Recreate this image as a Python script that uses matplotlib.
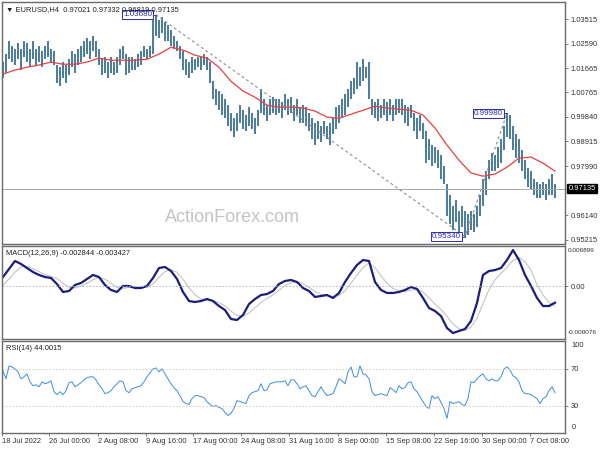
import numpy as np
import matplotlib
matplotlib.use("Agg")
import matplotlib.pyplot as plt
import matplotlib.transforms as mtrans

plt.rcParams['font.family'] = ['Liberation Sans', 'DejaVu Sans']

# EURUSD H4, one entry per two H4 bars
hi = [1.019, 1.022, 1.027, 1.025, 1.024, 1.026, 1.024, 1.027, 1.026, 1.024,
      1.027, 1.024, 1.025, 1.023, 1.025, 1.027, 1.024, 1.023, 1.018, 1.017,
      1.019, 1.018, 1.020, 1.023, 1.022, 1.024, 1.025, 1.027, 1.028, 1.027,
      1.029, 1.027, 1.024, 1.020, 1.021, 1.019, 1.021, 1.019, 1.021, 1.024,
      1.025, 1.022, 1.021, 1.021, 1.020, 1.022, 1.023, 1.025, 1.024, 1.025,
      1.035, 1.0368, 1.035, 1.036, 1.034, 1.033, 1.031, 1.029, 1.027, 1.025,
      1.023, 1.020, 1.019, 1.021, 1.020, 1.021, 1.021, 1.022, 1.021, 1.019,
      1.012, 1.009, 1.008, 1.007, 1.005, 1.003, 1.000, 0.998, 1.000, 1.003,
      1.001, 0.999, 1.002, 1.000, 0.998, 1.001, 1.009, 1.005, 1.003, 1.005,
      1.006, 1.005, 1.005, 1.004, 1.007, 1.005, 1.006, 1.003, 1.005, 1.002,
      1.003, 1.002, 1.000, 0.998, 0.996, 0.997, 0.995, 0.997, 0.995, 0.996,
      0.998, 1.002, 1.003, 1.005, 1.007, 1.009, 1.012, 1.013, 1.019, 1.017,
      1.020, 1.017, 1.019, 1.005, 1.004, 1.005, 1.003, 1.005, 1.004, 1.005,
      1.003, 1.005, 1.005, 1.005, 1.003, 1.002, 1.003, 1.000, 0.998, 0.999,
      0.996, 0.993, 0.990, 0.988, 0.987, 0.986, 0.984, 0.980, 0.973, 0.969,
      0.965, 0.967, 0.963, 0.965, 0.963, 0.962, 0.963, 0.962, 0.965, 0.969,
      0.975, 0.978, 0.982, 0.985, 0.984, 0.987, 0.990, 0.995, 0.9998, 0.999,
      0.995, 0.992, 0.990, 0.986, 0.982, 0.979, 0.978, 0.975, 0.974, 0.973,
      0.974, 0.973, 0.975, 0.977, 0.973]
lo = [1.013, 1.015, 1.020, 1.019, 1.018, 1.020, 1.016, 1.021, 1.019, 1.017,
      1.020, 1.018, 1.019, 1.017, 1.020, 1.021, 1.019, 1.018, 1.011, 1.010,
      1.013, 1.011, 1.014, 1.017, 1.015, 1.018, 1.019, 1.021, 1.022, 1.020,
      1.023, 1.021, 1.018, 1.014, 1.015, 1.013, 1.015, 1.014, 1.015, 1.018,
      1.020, 1.014, 1.015, 1.016, 1.016, 1.017, 1.018, 1.021, 1.020, 1.021,
      1.022, 1.029, 1.028, 1.030, 1.027, 1.027, 1.025, 1.024, 1.023, 1.020,
      1.016, 1.014, 1.013, 1.015, 1.016, 1.017, 1.016, 1.018, 1.016, 1.011,
      1.005, 1.003, 1.001, 0.999, 0.998, 0.995, 0.993, 0.991, 0.993, 0.996,
      0.994, 0.993, 0.995, 0.994, 0.992, 0.995, 1.000, 0.999, 0.997, 0.999,
      1.000, 0.999, 1.000, 0.998, 1.001, 0.999, 1.000, 0.997, 0.999, 0.996,
      0.996, 0.995, 0.993, 0.990, 0.988, 0.990, 0.989, 0.992, 0.990, 0.988,
      0.992, 0.994, 0.996, 0.998, 0.999, 1.002, 1.005, 1.007, 1.009, 1.010,
      1.012, 1.013, 1.005, 0.999, 0.998, 0.997, 0.998, 0.999, 0.997, 0.999,
      0.997, 0.999, 1.000, 0.999, 0.996, 0.995, 0.998, 0.993, 0.990, 0.993,
      0.990, 0.981, 0.982, 0.980, 0.981, 0.979, 0.975, 0.973, 0.961, 0.958,
      0.956, 0.959, 0.955, 0.957, 0.9534, 0.954, 0.956, 0.955, 0.957, 0.961,
      0.965, 0.969, 0.975, 0.978, 0.978, 0.979, 0.981, 0.986, 0.991, 0.990,
      0.986, 0.983, 0.981, 0.978, 0.975, 0.972, 0.971, 0.969, 0.968, 0.968,
      0.969, 0.967, 0.969, 0.969, 0.968]

# moving average, every 4th entry
ma = [1.0145, 1.0160, 1.0171, 1.0179, 1.0190, 1.0182, 1.0182, 1.0190, 1.0205, 1.0197,
      1.0197, 1.0197, 1.0201, 1.0220, 1.0246, 1.0235, 1.0216, 1.0205, 1.0171, 1.0118,
      1.0081, 1.0058, 1.0028, 1.0021, 1.0021, 1.0017, 1.0006, 0.9983, 0.9979, 0.9994,
      1.0009, 1.0024, 1.0017, 1.0013, 1.0009, 0.9991, 0.9942, 0.9878, 0.9821, 0.9773,
      0.9761, 0.9769, 0.9795, 0.9829, 0.9833, 0.9810, 0.9780]

# zigzag swing points (entry index, price)
zz_idx = [51, 154, 168]
zz_val = [1.0368, 0.9534, 0.9998]
zz_txt = ['1.03680', '0.95340', '0.99980']

last_price = 0.97135
price_ticks = [0.95215, 0.96140, 0.97990, 0.98915, 0.99840, 1.00765, 1.01665, 1.02590, 1.03515]

# MACD main / signal (x1e-3), every 2nd entry
macd = [1.57, 2.95, 4.32, 3.81, 3.12, 2.43, 1.92, 1.57, 1.40, 0.37,
        -1.00, -0.83, 0.20, 0.54, 1.23, 1.92, 1.57, 0.20, -0.66, -1.00,
        0.03, 0.03, -0.32, -0.32, 0.03, 1.40, 3.12, 3.29, 2.60, 1.23,
        -1.00, -2.55, -2.72, -2.55, -2.21, -2.55, -3.41, -4.10, -5.64, -5.81,
        -4.95, -3.07, -2.21, -1.52, -1.35, -0.83, 0.37, 0.89, 1.06, 0.71,
        -0.32, -0.83, -1.86, -1.69, -1.52, -2.03, -1.17, 0.71, 2.26, 3.63,
        4.49, 4.32, 0.71, -0.66, -1.17, -1.17, -1.00, -0.66, -0.14, -0.49,
        -2.03, -3.75, -4.27, -5.13, -7.19, -8.05, -7.70, -7.36, -5.99, -2.89,
        1.92, 2.60, 2.77, 3.12, 4.49, 6.20, 4.49, 1.92, 0.03, -2.03,
        -3.41, -3.41, -2.84]
signal = [0.2, 1.2, 2.4, 3.3, 3.4, 3.0, 2.5, 2.0, 1.7, 1.3,
          0.5, -0.2, -0.3, 0.0, 0.5, 1.1, 1.5, 1.2, 0.5, -0.2,
          -0.4, -0.2, -0.2, -0.3, -0.2, 0.4, 1.5, 2.5, 2.8, 2.4,
          1.2, -0.3, -1.5, -2.2, -2.4, -2.5, -2.8, -3.4, -4.3, -5.0,
          -5.2, -4.6, -3.7, -2.8, -2.1, -1.5, -0.7, 0.1, 0.6, 0.8,
          0.4, -0.2, -0.9, -1.4, -1.6, -1.8, -1.6, -0.8, 0.5, 1.9,
          3.2, 4.0, 3.2, 1.8, 0.5, -0.4, -0.8, -0.9, -0.7, -0.5,
          -1.0, -2.0, -3.1, -4.0, -5.2, -6.5, -7.3, -7.6, -7.0, -5.5,
          -3.0, -0.6, 1.1, 2.2, 3.2, 4.4, 4.9, 4.2, 2.8, 0.2,
          -1.5, -2.8, -3.43]

rsi = [67.8, 59.2, 73.2, 72.2, 70.0, 66.8, 59.2, 61.4, 64.6, 55.9,
       51.6, 52.7, 50.5, 55.9, 53.8, 54.9, 57.0, 45.1, 41.9, 45.1,
       41.9, 46.2, 54.9, 55.9, 50.5, 52.7, 54.9, 58.1, 60.3, 61.4,
       61.4, 58.1, 52.7, 48.4, 43.0, 44.1, 46.2, 50.5, 53.8, 57.0,
       55.9, 46.2, 44.1, 48.4, 49.5, 50.5, 51.6, 55.9, 61.4, 65.7,
       70.0, 71.1, 66.8, 70.0, 64.6, 59.2, 53.8, 49.5, 46.2, 40.8,
       34.3, 32.2, 31.1, 37.6, 40.8, 40.8, 39.7, 38.6, 34.3, 31.1,
       28.9, 30.0, 27.8, 26.8, 22.4, 19.2, 21.4, 26.8, 35.4, 34.3,
       33.2, 32.2, 40.8, 44.1, 45.1, 46.2, 53.8, 46.2, 47.3, 53.8,
       54.9, 55.9, 55.9, 55.9, 57.0, 51.6, 58.1, 58.1, 53.8, 48.4,
       50.5, 51.6, 46.2, 40.8, 39.7, 45.1, 50.5, 45.1, 40.8, 41.9,
       43.0, 50.5, 59.2, 57.0, 53.8, 66.8, 72.2, 61.4, 61.4, 73.2,
       64.6, 63.5, 59.2, 45.1, 40.8, 41.9, 43.0, 41.9, 40.8, 49.5,
       47.3, 44.1, 51.6, 48.4, 49.5, 54.9, 55.9, 48.4, 45.1, 39.7,
       34.3, 28.9, 26.8, 40.8, 37.6, 39.7, 33.2, 26.8, 16.0, 34.3,
       32.2, 33.2, 34.3, 31.1, 30.0, 37.6, 55.9, 54.9, 59.2, 62.4,
       64.6, 59.2, 57.0, 59.2, 57.0, 57.0, 61.4, 70.0, 72.2, 68.9,
       62.4, 60.3, 55.9, 46.2, 43.0, 43.0, 41.9, 39.7, 37.6, 32.2,
       37.6, 39.7, 46.2, 50.5, 44.0]

tick_pos = [-0.3, 15.4, 31.6, 47.6, 63.4, 79.3, 95.3, 111.6, 127.6, 143.7, 159.7, 175.7]
tick_labels = ['18 Jul 2022', '26 Jul 00:00', '2 Aug 08:00', '9 Aug 16:00', '17 Aug 00:00',
               '24 Aug 08:00', '31 Aug 16:00', '8 Sep 00:00', '15 Sep 08:00', '22 Sep 16:00',
               '30 Sep 00:00', '7 Oct 08:00']

FS = 5.4
SPINE = '#6a6a6a'
TXT = '#303030'

fig = plt.figure(figsize=(6, 4.5), dpi=100)
ax = fig.add_axes([0.00333, 0.45778, 0.93833, 0.53778])
axm = fig.add_axes([0.00333, 0.24667, 0.93833, 0.20667])
axr = fig.add_axes([0.00333, 0.03778, 0.93833, 0.20444])

n = min(len(hi), len(lo))
xb = np.arange(n)
xlim = (-0.33, 187.33)

for a in (ax, axm, axr):
    a.set_xlim(*xlim)
    for s in a.spines.values():
        s.set_color(SPINE)
        s.set_linewidth(1.0)
    a.yaxis.tick_right()
    a.tick_params(axis='y', direction='out', length=2.5, width=0.6, color=SPINE,
                  labelsize=FS, labelcolor=TXT, pad=1.5)
    a.set_xticks([])

# price panel
ax.vlines(xb, lo[:n], hi[:n], color='#4f7d9c', lw=1.45)
ax.plot(np.arange(len(ma)) * 4, ma, color='#e8403c', lw=0.9)
ax.plot(zz_idx, zz_val, color='#8c8c8c', lw=0.8, ls=(0, (2.5, 2.5)))
ax.axhline(last_price, color='#a9a9a9', lw=0.7)
ax.set_ylim(0.9506, 1.0416)
ax.set_yticks(price_ticks)
ax.set_yticklabels(['%.5f' % t for t in price_ticks])
for xi, v, t in zip(zz_idx, zz_val, zz_txt):
    ax.plot([xi - 1.3, xi], [v, v], color='#2b2bb0', lw=0.6)
    ax.text(xi - 1.3, v, t, ha='right', va='center', fontsize=5.8, color='#2b2bb0',
            bbox=dict(boxstyle='square,pad=0.12', fc='white', ec='#2b2bb0', lw=0.7))
trans = mtrans.blended_transform_factory(ax.transAxes, ax.transData)
ax.text(1.006, last_price, '%.5f' % last_price, transform=trans, ha='left', va='center',
        fontsize=FS, color='white', clip_on=False,
        bbox=dict(boxstyle='square,pad=0.15', fc='black', ec='black'))
ax.text(0.007, 0.985, '\u25bc EURUSD,H4  0.97021 0.97332 0.96819 0.97135', transform=ax.transAxes,
        ha='left', va='top', fontsize=FS, color='#202020')
ax.text(0.289, 0.11, 'ActionForex.com', transform=ax.transAxes, ha='left', va='center',
        fontsize=13, color='#c4c4c4')

# MACD panel
mx = np.arange(len(macd)) * 2
sx = np.arange(len(signal)) * 2
axm.plot(sx, np.array(signal) / 1000, color='#c4c4c4', lw=0.8)
axm.plot(mx, np.array(macd) / 1000, color='#1c1c80', lw=1.6)
axm.axhline(0, color='#b0b0b0', lw=0.6, ls=(0, (2, 2)))
axm.set_ylim(-0.009076, 0.006899)
axm.set_yticks([0.0])
axm.set_yticklabels(['0.00'])
axm.text(1.005, 0.95, '0.006899', transform=axm.transAxes, ha='left', va='center', fontsize=4.6, color=TXT)
axm.text(1.005, 0.065, '-0.009076', transform=axm.transAxes, ha='left', va='center', fontsize=4.6, color=TXT)
axm.text(0.007, 0.96, 'MACD(12,26,9) -0.002844 -0.003427', transform=axm.transAxes,
         ha='left', va='top', fontsize=FS, color='#202020')

# RSI panel
axr.plot(np.arange(len(rsi)), rsi, color='#3c8de3', lw=0.7)
for lv in (70, 30):
    axr.axhline(lv, color='#d9c9b4', lw=0.6, ls=(0, (2, 2)))
axr.set_ylim(0, 100.5)
axr.set_yticks([70, 30])
axr.set_yticklabels(['70', '30'])
axr.text(1.012, 0.955, '100', transform=axr.transAxes, ha='left', va='center', fontsize=FS, color=TXT)
axr.text(1.012, 0.055, '0', transform=axr.transAxes, ha='left', va='center', fontsize=FS, color=TXT)
axr.text(0.007, 0.96, 'RSI(14) 44.0015', transform=axr.transAxes,
         ha='left', va='top', fontsize=FS, color='#202020')
axr.set_xticks(tick_pos)
axr.set_xticklabels(tick_labels)
axr.tick_params(axis='x', direction='out', length=2.5, width=0.6, color=SPINE,
                labelsize=FS, labelcolor=TXT, pad=1.2)
for lab in axr.get_xticklabels():
    lab.set_ha('left')

fig.savefig('out.png', dpi=100, facecolor='white')
